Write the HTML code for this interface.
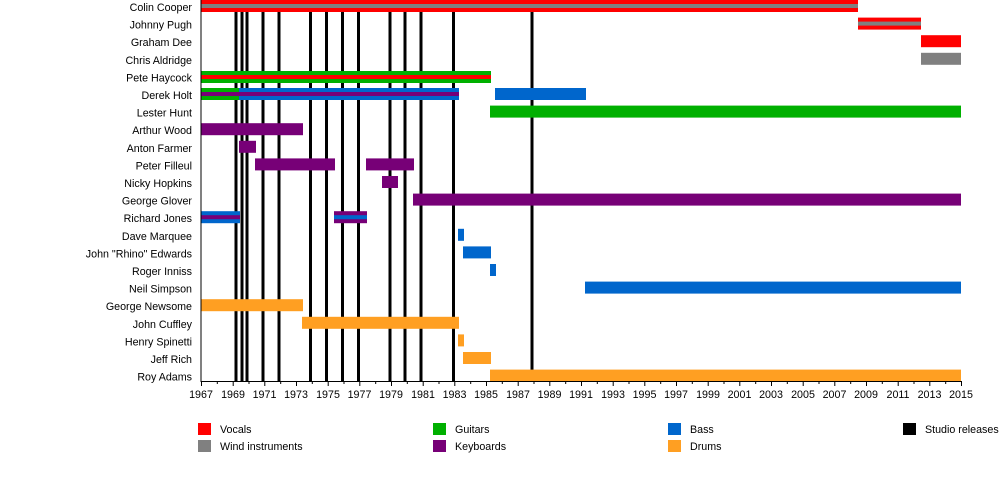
<!DOCTYPE html><html><head><style>body{margin:0;background:#fff}svg{display:block}text{font-family:"Liberation Sans",sans-serif;font-size:10.7px;fill:#000}</style></head><body>
<svg width="1000" height="500" xmlns="http://www.w3.org/2000/svg">
<g text-anchor="end">
<text x="192" y="11">Colin Cooper</text><text x="192" y="28.6">Johnny Pugh</text><text x="192" y="46.2">Graham Dee</text><text x="192" y="63.8">Chris Aldridge</text><text x="192" y="81.4">Pete Haycock</text><text x="192" y="99">Derek Holt</text><text x="192" y="116.6">Lester Hunt</text><text x="192" y="134.2">Arthur Wood</text><text x="192" y="151.8">Anton Farmer</text><text x="192" y="169.4">Peter Filleul</text><text x="192" y="187">Nicky Hopkins</text><text x="192" y="204.6">George Glover</text><text x="192" y="222.2">Richard Jones</text><text x="192" y="239.8">Dave Marquee</text><text x="192" y="257.4">John "Rhino" Edwards</text><text x="192" y="275">Roger Inniss</text><text x="192" y="292.6">Neil Simpson</text><text x="192" y="310.2">George Newsome</text><text x="192" y="327.8">John Cuffley</text><text x="192" y="345.4">Henry Spinetti</text><text x="192" y="363">Jeff Rich</text><text x="192" y="380.6">Roy Adams</text>
</g>
<!-- releases -->
<g stroke="#000" stroke-width="3">
<line x1="236" y1="12" x2="236" y2="381"/><line x1="242" y1="12" x2="242" y2="381"/><line x1="247" y1="12" x2="247" y2="381"/><line x1="263" y1="12" x2="263" y2="381"/><line x1="279" y1="12" x2="279" y2="381"/><line x1="310.5" y1="12" x2="310.5" y2="381"/><line x1="326.5" y1="12" x2="326.5" y2="381"/><line x1="342.5" y1="12" x2="342.5" y2="381"/><line x1="358.5" y1="12" x2="358.5" y2="381"/><line x1="390" y1="12" x2="390" y2="381"/><line x1="405" y1="12" x2="405" y2="381"/><line x1="421" y1="12" x2="421" y2="381"/><line x1="453.5" y1="12" x2="453.5" y2="381"/><line x1="532" y1="12" x2="532" y2="381"/>
</g>
<!-- bars -->
<rect x="201" y="0" width="657" height="12" fill="#f00"/><rect x="201" y="4" width="657" height="4" fill="#808080"/>
<rect x="858" y="17.6" width="63" height="12" fill="#f00"/><rect x="858" y="21.6" width="63" height="4" fill="#808080"/>
<rect x="921" y="35.2" width="40" height="12" fill="#f00"/>
<rect x="921" y="52.8" width="40" height="12" fill="#808080"/>
<rect x="201" y="71" width="290" height="12" fill="#00b000"/><rect x="201" y="75" width="290" height="4" fill="#f00"/>
<rect x="201" y="88" width="258" height="12" fill="#0066cc"/><rect x="201" y="88" width="38" height="12" fill="#00b000"/><rect x="201" y="92" width="258" height="4" fill="#770077"/>
<rect x="495" y="88" width="91" height="12" fill="#0066cc"/>
<rect x="490" y="105.6" width="471" height="12" fill="#00b000"/>
<rect x="201" y="123.2" width="102" height="12" fill="#770077"/>
<rect x="239" y="140.8" width="17" height="12" fill="#770077"/>
<rect x="255" y="158.4" width="80" height="12" fill="#770077"/><rect x="366" y="158.4" width="48" height="12" fill="#770077"/>
<rect x="382" y="176" width="16" height="12" fill="#770077"/>
<rect x="413" y="193.6" width="548" height="12" fill="#770077"/>
<rect x="201" y="211.2" width="39" height="12" fill="#0066cc"/><rect x="201" y="215.2" width="39" height="4" fill="#770077"/>
<rect x="334" y="211.2" width="33" height="12" fill="#770077"/><rect x="334" y="215.2" width="33" height="4" fill="#0066cc"/>
<rect x="458" y="228.8" width="6" height="12" fill="#0066cc"/>
<rect x="463" y="246.4" width="28" height="12" fill="#0066cc"/>
<rect x="490" y="264" width="6" height="12" fill="#0066cc"/>
<rect x="585" y="281.6" width="376" height="12" fill="#0066cc"/>
<rect x="201" y="299.2" width="102" height="12" fill="#ff9f22"/>
<rect x="302" y="316.8" width="157" height="12" fill="#ff9f22"/>
<rect x="458" y="334.4" width="6" height="12" fill="#ff9f22"/>
<rect x="463" y="352" width="28" height="12" fill="#ff9f22"/>
<rect x="490" y="369.6" width="471" height="12" fill="#ff9f22"/>
<!-- axes -->
<line x1="201" y1="0" x2="201" y2="382" stroke="#000" stroke-width="1"/>
<line x1="201" y1="381.5" x2="961" y2="381.5" stroke="#000" stroke-width="1"/>
<g stroke="#000" stroke-width="1">
<path d="M201.5 381v5M217.3 381v3M233.2 381v5M249 381v3M264.8 381v5M280.7 381v3M296.5 381v5M312.3 381v3M328.2 381v5M344 381v3M359.8 381v5M375.7 381v3M391.5 381v5M407.3 381v3M423.2 381v5M439 381v3M454.8 381v5M470.7 381v3M486.5 381v5M502.3 381v3M518.2 381v5M534 381v3M549.8 381v5M565.7 381v3M581.5 381v5M597.3 381v3M613.2 381v5M629 381v3M644.8 381v5M660.7 381v3M676.5 381v5M692.3 381v3M708.2 381v5M724 381v3M739.8 381v5M755.7 381v3M771.5 381v5M787.3 381v3M803.2 381v5M819 381v3M834.8 381v5M850.7 381v3M866.5 381v5M882.3 381v3M898.2 381v5M914 381v3M929.8 381v5M945.7 381v3M961.5 381v5"/>
</g>
<g text-anchor="middle">
<text x="201" y="398">1967</text><text x="233" y="398">1969</text><text x="264.5" y="398">1971</text><text x="296" y="398">1973</text><text x="328" y="398">1975</text><text x="359.5" y="398">1977</text><text x="391" y="398">1979</text><text x="423" y="398">1981</text><text x="454.5" y="398">1983</text><text x="486" y="398">1985</text><text x="518" y="398">1987</text><text x="549.5" y="398">1989</text><text x="581" y="398">1991</text><text x="613" y="398">1993</text><text x="644.5" y="398">1995</text><text x="676" y="398">1997</text><text x="708" y="398">1999</text><text x="739.5" y="398">2001</text><text x="771" y="398">2003</text><text x="803" y="398">2005</text><text x="834.5" y="398">2007</text><text x="866" y="398">2009</text><text x="898" y="398">2011</text><text x="929.5" y="398">2013</text><text x="961" y="398">2015</text>
</g>
<!-- legend -->
<rect x="198" y="423" width="13" height="12" fill="#f00"/><text x="220" y="433">Vocals</text>
<rect x="198" y="440" width="13" height="12" fill="#808080"/><text x="220" y="450">Wind instruments</text>
<rect x="433" y="423" width="13" height="12" fill="#00b000"/><text x="455" y="433">Guitars</text>
<rect x="433" y="440" width="13" height="12" fill="#770077"/><text x="455" y="450">Keyboards</text>
<rect x="668" y="423" width="13" height="12" fill="#0066cc"/><text x="690" y="433">Bass</text>
<rect x="668" y="440" width="13" height="12" fill="#ff9f22"/><text x="690" y="450">Drums</text>
<rect x="903" y="423" width="13" height="12" fill="#000"/><text x="925" y="433">Studio releases</text>
</svg></body></html>
